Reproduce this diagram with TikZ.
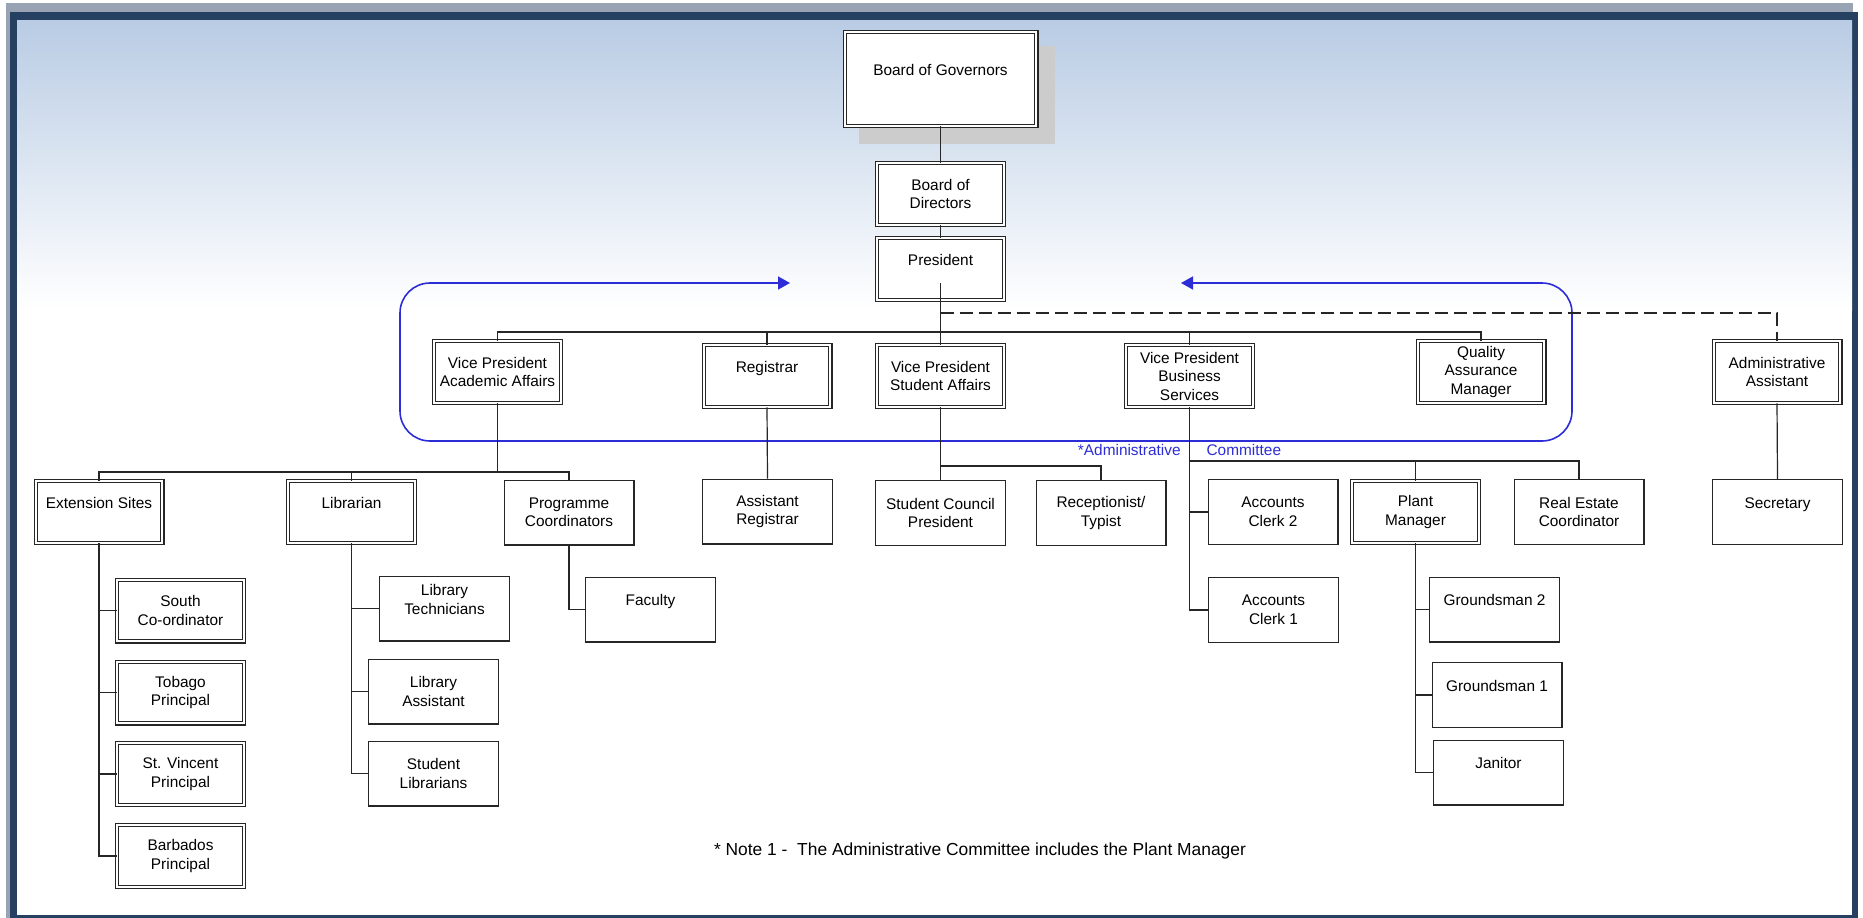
\documentclass[tikz,border=0pt]{standalone}
\usepackage{fontspec}
\setmainfont{Liberation Sans}
\usepackage{xcolor}
\usepackage{tikz}
\usetikzlibrary{arrows.meta, shadows}
\definecolor{framenavy}{RGB}{38,64,97}
\definecolor{framegray}{RGB}{152,164,180}
\definecolor{skyblue}{RGB}{185,204,228}
\definecolor{committeeblue}{RGB}{45,45,215}
\definecolor{shadowgray}{RGB}{204,204,204}

\begin{document}
\begin{tikzpicture}[
    x=1pt, y=1pt,
    every node/.style={font=\fontsize{15.4}{18.5}\selectfont},
    office/.style={rectangle, draw=black!85, double=white, double distance=2pt, line width=1.1pt, fill=white, minimum width=126.8pt, minimum height=61.8pt, inner sep=0pt, align=center},
    staff/.style={rectangle, draw=black!85, line width=1.3pt, fill=white, minimum width=129.7pt, minimum height=64.7pt, inner sep=0pt, align=center},
    link/.style={draw=black!85, line width=1.2pt},
    dashlink/.style={link, dash pattern=on 13pt off 6pt},
    committee/.style={draw=committeeblue, line width=1.6pt, rounded corners=30pt}
]
    \useasboundingbox (0,0) rectangle (1863,-918);

    % Frame and background
    \fill[framegray] (6,-3) rectangle (1853,-918);
    \fill[framenavy] (10,-12) rectangle (1858,-918);
    \shade[top color=skyblue, bottom color=white] (17,-20) rectangle (1852,-310);
    \fill[white] (17,-310) rectangle (1852,-915);

    % Administrative committee
    \coordinate (cmtleft) at (790,-283);
    \coordinate (cmtright) at (1181,-283);
    \draw[committee, {Triangle[length=12pt,width=13pt]}-{Triangle[length=12pt,width=13pt]}] (cmtleft) -- (400,-283) -- (400,-441) -- (1572,-441) -- (1572,-283) -- (cmtright);
    \node[text=committeeblue] (cmtlabel) at (1179.5,-450) {*Administrative\hspace{26pt}Committee};

    % Board level
    \node[office, minimum width=191.8pt, minimum height=93.8pt, drop shadow={shadow xshift=16pt, shadow yshift=-16pt, fill=shadowgray, draw=shadowgray, line width=4.2pt, opacity=1}] (gov) at (940.5,-79) {Board of Governors\\\mbox{}};
    \node[office] (dir) at (940.5,-194) {Board of\\Directors};
    \node[office] (pres) at (940.5,-269) {President\\\mbox{}};

    % Vice presidents and officers
    \node[office] (vpaa) at (497.5,-372) {Vice President\\Academic Affairs};
    \node[office] (reg) at (767,-376) {Registrar\\\mbox{}};
    \node[office] (vpsa) at (940.5,-376) {Vice President\\Student Affairs};
    \node[office] (vpbs) at (1189.5,-376) {Vice President\\Business\\Services};
    \node[office] (qam) at (1481,-372) {Quality\\Assurance\\Manager};
    \node[office] (aa) at (1777,-372) {Administrative\\Assistant};

    % Academic affairs
    \node[office] (ext) at (99,-512) {Extension Sites\\\mbox{}};
    \node[office] (lib) at (351.5,-512) {Librarian\\\mbox{}};
    \node[staff] (pc) at (569,-512.5) {Programme\\Coordinators};
    \node[office] (south) at (180.5,-610.5) {South\\Co-ordinator};
    \node[office] (tobago) at (180.5,-692.5) {Tobago\\Principal};
    \node[office] (stvincent) at (180.5,-774) {St. Vincent\\Principal};
    \node[office] (barbados) at (180.5,-856) {Barbados\\Principal};
    \node[staff] (libtech) at (444.5,-608.5) {Library\\Technicians\\\mbox{}};
    \node[staff] (libasst) at (433.5,-691.5) {Library\\Assistant};
    \node[staff] (stulib) at (433.5,-773.5) {Student\\Librarians};
    \node[staff] (faculty) at (650.5,-609.5) {Faculty\\\mbox{}};

    % Registrar and student affairs
    \node[staff] (asstreg) at (767.5,-511.5) {Assistant\\Registrar};
    \node[staff] (council) at (940.5,-513) {Student Council\\President};
    \node[staff] (recep) at (1101,-513) {Receptionist/\\Typist};

    % Business services
    \node[staff] (clerktwo) at (1273,-512) {Accounts\\Clerk 2};
    \node[staff] (clerkone) at (1273.5,-610) {Accounts\\Clerk 1};
    \node[office] (plant) at (1415.5,-512) {Plant\\Manager};
    \node[staff] (realestate) at (1579,-512) {Real Estate\\Coordinator};
    \node[staff] (groundtwo) at (1494.5,-609.5) {Groundsman 2\\\mbox{}};
    \node[staff] (groundone) at (1497,-695) {Groundsman 1\\\mbox{}};
    \node[staff] (janitor) at (1498.5,-772.5) {Janitor\\\mbox{}};

    % Administrative assistant
    \node[staff] (secretary) at (1777.5,-512) {Secretary\\\mbox{}};

    % Note
    \node[font=\fontsize{17.4}{20}\selectfont] (note) at (980,-851) {* Note 1 -\ \ The Administrative Committee includes the Plant Manager};

    % Junctions
    \coordinate (presdrop) at (940.5,-283);
    \coordinate (hub) at (940.5,-332);
    \coordinate (dashfork) at (940.5,-313);
    \coordinate (acadhub) at (497.5,-472);
    \coordinate (stuhub) at (940.5,-466);
    \coordinate (bushub) at (1189.5,-461);

    % Lines - top
    \draw[link] (gov) -- (dir);
    \draw[link] (dir) -- (pres);
    \draw[link] (presdrop) -- (hub);
    \draw[link] (vpaa.north) |- (hub) -| (qam.north);
    \draw[link] (reg.north) -- (reg.north |- hub);
    \draw[link] (hub) -- (vpsa.north);
    \draw[link] (vpbs.north) -- (vpbs.north |- hub);
    \draw[dashlink] (dashfork) -| (aa.north);

    % Lines - academic affairs
    \draw[link] (vpaa.south) -- (acadhub);
    \draw[link] (ext.north) |- (acadhub) -| (pc.north);
    \draw[link] (lib.north) -- (lib.north |- acadhub);
    \draw[link] (ext.south) |- (barbados.west);
    \draw[link] (ext.south |- south.west) -- (south.west);
    \draw[link] (ext.south |- tobago.west) -- (tobago.west);
    \draw[link] (ext.south |- stvincent.west) -- (stvincent.west);
    \draw[link] (lib.south) |- (stulib.west);
    \draw[link] (lib.south |- libtech.west) -- (libtech.west);
    \draw[link] (lib.south |- libasst.west) -- (libasst.west);
    \draw[link] (pc.south) |- (faculty.west);

    % Lines - registrar, student affairs
    \draw[link] (reg.south) -- (asstreg.north);
    \draw[link] (vpsa.south) -- (council.north);
    \draw[link] (stuhub) -| (recep.north);

    % Lines - business services
    \draw[link] (vpbs.south) |- (clerkone.west);
    \draw[link] (vpbs.south |- clerktwo.west) -- (clerktwo.west);
    \draw[link] (bushub) -| (realestate.north);
    \draw[link] (plant.north) -- (plant.north |- bushub);
    \draw[link] (plant.south) |- (janitor.west);
    \draw[link] (plant.south |- groundtwo.west) -- (groundtwo.west);
    \draw[link] (plant.south |- groundone.west) -- (groundone.west);

    % Lines - administrative assistant
    \draw[link] (aa.south) -- (secretary.north);

\end{tikzpicture}
\end{document}
